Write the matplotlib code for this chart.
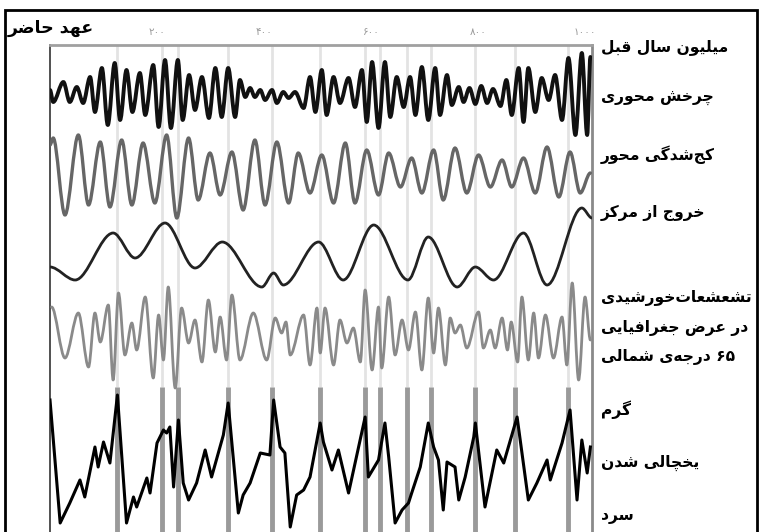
import re

import matplotlib

matplotlib.use("Agg")
import matplotlib.pyplot as plt
from matplotlib.patches import PathPatch, Rectangle
from matplotlib.path import Path

# ---- data (kyr before present, relative amplitude) ----
prec_t = [0, 6, 25, 37, 50, 62, 75, 84, 97, 108, 121, 131, 143, 154, 168, 178, 193, 203, 215, 226,
          239, 248, 260, 271, 284, 297, 309, 321, 333, 346, 355, 365, 374, 383, 393, 402, 415, 424,
          436, 446, 458, 474, 486, 496, 508, 517, 530, 542, 558, 570, 583, 592, 602, 614, 626, 636,
          648, 661, 673, 683, 695, 707, 720, 729, 742, 751, 764, 773, 784, 795, 806, 817, 828, 842,
          853, 863, 876, 885, 894, 907, 919, 932, 944, 957, 969, 982, 994, 1004, 1010]
prec_v = [3, -9, 11, -9, 6, -10, 16, -19, 25, -32, 30, -27, 23, -19, 20, -22, 28, -34, 33, -35,
          33, -27, 18, -17, 16, -25, 25, -24, 25, -24, 13, -4, 5, -4, 3, -7, 3, -10,
          1, -5, 1, -15, 16, -19, 23, -22, 16, -10, 15, -14, 23, -29, 31, -35, 31, -24,
          16, -14, 16, -22, 26, -27, 25, -22, 18, -12, 6, -9, 5, -11, 7, -10, 4, -13,
          13, -22, 25, -29, 25, -19, 15, -7, 18, -27, 35, -42, 40, -42, 36]

obl_t = [0, 6, 28, 53, 72, 94, 112, 134, 153, 174, 196, 218, 237, 259, 277, 299, 318, 340, 361, 383,
         402, 424, 446, 464, 486, 508, 530, 552, 570, 592, 614, 633, 655, 676, 695, 717, 735, 757,
         779, 801, 823, 845, 863, 885, 907, 929, 951, 972, 991, 1010]
obl_v = [30, 37, -40, 40, -30, 33, -32, 35, -30, 32, -28, 40, -43, 37, -25, 22, -20, 23, -35, 35,
         -30, 33, -28, 22, -18, 20, -28, 32, -28, 25, -20, 22, -12, 17, -18, 25, -25, 27,
         -18, 20, -12, 15, -12, 17, -18, 28, -22, 23, -18, 2]

ecc_t = [0, 47, 118, 159, 215, 271, 322, 396, 418, 436, 502, 548, 605, 669, 707, 761, 795, 829,
         885, 929, 994, 1013]
ecc_v = [-12, -25, 22, -3, 32, -13, 13, -32, -18, -30, 13, -25, 30, -25, 18, -32, -12, -25,
         22, -30, 47, 37]

ins_t = [3, 28, 53, 72, 84, 94, 109, 118, 128, 140, 153, 162, 178, 193, 203, 212, 221, 234, 246,
         259, 271, 284, 296, 309, 318, 330, 340, 355, 380, 405, 421, 433, 441, 449, 474, 486, 499,
         505, 514, 530, 542, 555, 567, 580, 589, 602, 614, 620, 633, 645, 658, 670, 683, 695, 707,
         717, 726, 739, 748, 757, 767, 779, 801, 810, 823, 832, 845, 855, 862, 874, 882, 894, 904,
         913, 926, 941, 957, 966, 976, 988, 1000, 1010]
ins_v = [23, -28, 17, -37, 17, -12, 25, -50, 37, -25, 7, -20, 33, -48, 15, -30, 43, -58, 22,
         -13, 10, -32, 30, -22, 13, -30, 35, -30, 17, -30, 12, -3, 8, -25, 15, -35, 22,
         -23, 22, -35, 10, -13, 2, -32, 40, -40, 23, -38, 33, -25, 10, -20, 18, -40, 32,
         -23, 22, -35, 12, -3, 5, -18, 18, -18, 0, -18, 12, -20, 8, -32, 33, -30, 17,
         -28, 15, -28, 13, -35, 47, -50, 33, -10]

ice_t = [0, 19, 37, 56, 65, 84, 90, 100, 112, 126, 143, 156, 162, 181, 187, 200, 212, 218, 224,
         231, 240, 249, 259, 274, 290, 302, 324, 333, 352, 361, 374, 393, 411, 418, 430, 439, 449,
         461, 474, 486, 505, 511, 527, 539, 558, 589, 595, 614, 626, 633, 645, 658, 670, 676, 692,
         707, 717, 726, 735, 742, 757, 764, 776, 792, 795, 813, 835, 848, 873, 894, 910, 929, 935,
         957, 972, 985, 994, 1004, 1010]
ice_v = [60, -63, -43, -20, -37, 13, -7, 18, -3, 65, -63, -37, -47, -18, -33, 17, 30, 27, 33,
         -27, 40, -23, -40, -23, 10, -17, 25, 57, -53, -35, -23, 7, 5, 60, 13, 7, -67,
         -35, -30, -17, 37, 18, -10, 10, -33, 43, -17, 0, 37, 3, -63, -50, -43, -33, -7,
         37, 13, 0, -50, -2, -7, -40, -17, 23, 37, -47, 10, -3, 43, -40, -23, 0, -20,
         17, 50, -40, 20, -13, 13]

interglacials = [125, 210, 239, 333, 415, 505, 589, 617, 668, 713, 794, 870, 968]

tick_pos = [200, 400, 600, 800, 1000]
tick_lbl = ["۲۰۰", "۴۰۰", "۶۰۰", "۸۰۰", "۱۰۰۰"]

labels_right = [
    ("میلیون سال قبل", 47),
    ("چرخش محوری", 98),
    ("کج‌شدگی محور", 155),
    ("خروج از مرکز", 213),
    ("تشعشعات‌خورشیدی", 298),
    ("در عرض جغرافیایی", 328),
    ("۶۵ درجه‌ی شمالی", 357),
    ("گرم", 410),
    ("یخچالی شدن", 463),
    ("سرد", 516),
]

# ---- minimal Persian shaping (matplotlib has no complex text layout) ----
FORMS = {
    "ا": ("\uFE8D", "\uFE8E", None, None),
    "ب": ("\uFE8F", "\uFE90", "\uFE91", "\uFE92"),
    "پ": ("\uFB56", "\uFB57", "\uFB58", "\uFB59"),
    "ت": ("\uFE95", "\uFE96", "\uFE97", "\uFE98"),
    "ج": ("\uFE9D", "\uFE9E", "\uFE9F", "\uFEA0"),
    "چ": ("\uFB7A", "\uFB7B", "\uFB7C", "\uFB7D"),
    "ح": ("\uFEA1", "\uFEA2", "\uFEA3", "\uFEA4"),
    "خ": ("\uFEA5", "\uFEA6", "\uFEA7", "\uFEA8"),
    "د": ("\uFEA9", "\uFEAA", None, None),
    "ر": ("\uFEAD", "\uFEAE", None, None),
    "ز": ("\uFEAF", "\uFEB0", None, None),
    "س": ("\uFEB1", "\uFEB2", "\uFEB3", "\uFEB4"),
    "ش": ("\uFEB5", "\uFEB6", "\uFEB7", "\uFEB8"),
    "ض": ("\uFEBD", "\uFEBE", "\uFEBF", "\uFEC0"),
    "ع": ("\uFEC9", "\uFECA", "\uFECB", "\uFECC"),
    "غ": ("\uFECD", "\uFECE", "\uFECF", "\uFED0"),
    "ف": ("\uFED1", "\uFED2", "\uFED3", "\uFED4"),
    "ق": ("\uFED5", "\uFED6", "\uFED7", "\uFED8"),
    "ک": ("\uFB8E", "\uFB8F", "\uFB90", "\uFB91"),
    "گ": ("\uFB92", "\uFB93", "\uFB94", "\uFB95"),
    "ل": ("\uFEDD", "\uFEDE", "\uFEDF", "\uFEE0"),
    "م": ("\uFEE1", "\uFEE2", "\uFEE3", "\uFEE4"),
    "ن": ("\uFEE5", "\uFEE6", "\uFEE7", "\uFEE8"),
    "ه": ("\uFEE9", "\uFEEA", "\uFEEB", "\uFEEC"),
    "و": ("\uFEED", "\uFEEE", None, None),
    "ی": ("\uFBFC", "\uFBFD", "\uFBFE", "\uFBFF"),
}


def fa(s):
    s = s.replace("\u064A", "ی").replace("\u0643", "ک")
    out = []
    for i, c in enumerate(s):
        if c == "\u200c":
            continue
        if c not in FORMS:
            out.append(c)
            continue
        prev = s[i - 1] if i > 0 else ""
        nxt = s[i + 1] if i + 1 < len(s) else ""
        jp = prev in FORMS and FORMS[prev][2] is not None
        jn = FORMS[c][2] is not None and nxt in FORMS
        iso, fin, ini, med = FORMS[c]
        out.append(med if jp and jn else fin if jp else ini if jn else iso)
    rev = "".join(out)[::-1]
    return re.sub(r"[۰-۹0-9]+", lambda m: m.group(0)[::-1], rev)


def smooth_line(ax, xs, ys, **kw):
    # cubic bezier through every data point, flat tangent at each point
    verts = [(xs[0], ys[0])]
    codes = [Path.MOVETO]
    for x0, y0, x1, y1 in zip(xs[:-1], ys[:-1], xs[1:], ys[1:]):
        dx = (x1 - x0) / 3
        verts += [(x0 + dx, y0), (x1 - dx, y1), (x1, y1)]
        codes += [Path.CURVE4] * 3
    ax.add_patch(PathPatch(Path(verts, codes), fill=False, capstyle="round",
                           joinstyle="round", **kw))


plt.rcParams["font.family"] = ["DejaVu Sans"]

W, H = 762, 532
fig = plt.figure(figsize=(W / 100, H / 100), dpi=100)
ax = fig.add_axes([50 / W, 0, 542 / W, 1 - 45 / H])
ax.set_xlim(0, 1013)
ax.set_ylim(0, 487)

# interglacial markers
ax.vlines(interglacials, 145, 487, color="#e3e3e3", lw=2, zorder=1)
ax.vlines(interglacials, 0, 145, color="#9a9a9a", lw=3.5, zorder=1)

base = {"prec": 439, "obl": 357, "ecc": 277, "ins": 202, "ice": 72}
smooth_line(ax, prec_t, [base["prec"] + v for v in prec_v], ec="#111111", lw=2.8, zorder=3)
smooth_line(ax, obl_t, [base["obl"] + v for v in obl_v], ec="#666666", lw=2.4, zorder=3)
smooth_line(ax, ecc_t, [base["ecc"] + v for v in ecc_v], ec="#222222", lw=2.0, zorder=3)
smooth_line(ax, ins_t, [base["ins"] + v for v in ins_v], ec="#8a8a8a", lw=2.0, zorder=3)
ax.plot(ice_t, [base["ice"] + v for v in ice_v], color="#000000", lw=2.2, zorder=3,
        solid_joinstyle="round")

ax.xaxis.tick_top()
ax.set_xticks(tick_pos)
ax.set_xticklabels([fa(t) for t in tick_lbl], fontsize=7.5, color="#9a9a9a")
ax.tick_params(axis="x", length=0, pad=6)
ax.set_yticks([])
ax.spines["bottom"].set_visible(False)
ax.spines["top"].set_color("#a0a0a0")
ax.spines["top"].set_linewidth(2)
ax.spines["left"].set_color("#333333")
ax.spines["left"].set_linewidth(1.2)
ax.spines["right"].set_color("#8a8a8a")
ax.spines["right"].set_linewidth(2)

fig.text(8 / W, 1 - 28 / H, fa("عهد حاضر"), fontsize=12.5, fontweight="bold",
         ha="left", va="center")
for txt, ypx in labels_right:
    fig.text(601 / W, 1 - ypx / H, fa(txt), fontsize=11.2, fontweight="bold",
             ha="left", va="center")

fig.patches.append(Rectangle((5 / W, -0.02), 752 / W, 1.02 - 10 / H, transform=fig.transFigure,
                             fill=False, ec="black", lw=2))

fig.savefig("out.png", dpi=100)
